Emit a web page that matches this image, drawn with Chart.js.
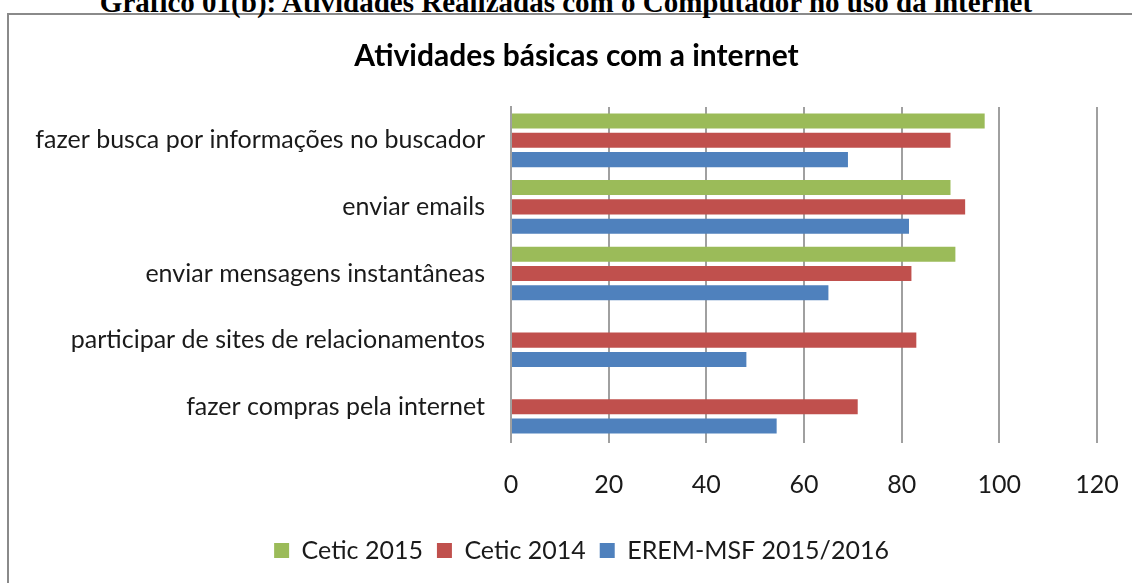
<!DOCTYPE html>
<html>
<head>
<meta charset="utf-8">
<script src="https://cdn.jsdelivr.net/npm/chart.js@4"></script>
<style>
  html, body { margin:0; padding:0; background:#fff; width:1132px; height:583px; overflow:hidden; }
  #frame { position:absolute; left:7px; top:13px; width:1140px; height:600px; border-left:2px solid #8a8a8a; border-top:2px solid #8a8a8a; box-sizing:border-box; }
  #caption { position:absolute; left:0; top:-12px; width:1132px; text-align:center; font:bold 29px "Liberation Serif", "Times New Roman", serif; line-height:29px; color:#000; white-space:nowrap; }
  #wrap { position:absolute; left:0; top:0; width:1132px; height:583px; }
</style>
</head>
<body>
<div id="frame"></div>
<div id="caption">Gráfico 01(b): Atividades Realizadas com o Computador no uso da internet</div>
<div id="wrap"><canvas id="c" width="1132" height="583"></canvas></div>
<script>
const chartTitle = "Atividades básicas com a internet";
const categories = [
  "fazer busca por informações no buscador",
  "enviar emails",
  "enviar mensagens instantâneas",
  "participar de sites de relacionamentos",
  "fazer compras pela internet"
];
const seriesNames = ["Cetic 2015", "Cetic 2014", "EREM-MSF 2015/2016"];
const cetic2015 = [97, 90, 91, null, null];
const cetic2014 = [90, 93, 82, 83, 71];
const erem = [69, 81.5, 65, 48.2, 54.4];
const xTicks = [0, 20, 40, 60, 80, 100, 120];

const colors = ["#9BBB59", "#C0504D", "#4F81BD"];
const labelFont = { family: "Lato, 'Open Sans', sans-serif", size: 25 };

// shift title and legend to the right, as in the reference
const shiftBlocks = {
  id: "shiftBlocks",
  afterLayout(chart) {
    const t = chart.titleBlock;
    if (t) { t.left += 23; t.right += 23; }
    const l = chart.legend;
    if (l) { l.left += 28; l.right += 28; }
  }
};

new Chart(document.getElementById("c"), {
  type: "bar",
  data: {
    labels: categories,
    datasets: [
      { label: seriesNames[0], data: cetic2015, backgroundColor: colors[0] },
      { label: seriesNames[1], data: cetic2014, backgroundColor: colors[1] },
      { label: seriesNames[2], data: erem, backgroundColor: colors[2] }
    ]
  },
  plugins: [shiftBlocks],
  options: {
    indexAxis: "y",
    responsive: false,
    animation: false,
    events: [],
    categoryPercentage: 0.87,
    barPercentage: 0.78,
    layout: { padding: { left: 10, right: 35, top: 0, bottom: 10 } },
    plugins: {
      tooltip: { enabled: false },
      title: {
        display: true,
        text: chartTitle,
        color: "#000",
        font: { family: "Lato, 'Open Sans', sans-serif", size: 30, weight: "bold" },
        padding: { top: 38, bottom: 33 }
      },
      legend: {
        position: "bottom",
        labels: {
          color: "#1a1a1a",
          font: labelFont,
          boxWidth: 15,
          boxHeight: 15,
          padding: 14
        }
      }
    },
    scales: {
      x: {
        min: 0, max: 120,
        afterBuildTicks: (s) => { s.ticks = xTicks.map(v => ({ value: v })); },
        afterFit: (s) => { s.height = 84; s.paddingLeft = 0; s.paddingRight = 0; },
        grid: { color: "#a0a0a0", lineWidth: 2, drawTicks: true, tickLength: 3 },
        border: { display: false },
        ticks: { color: "#1a1a1a", font: labelFont, padding: 27 }
      },
      y: {
        afterFit: (s) => { s.width = 501; },
        grid: { display: false, drawTicks: false },
        border: { display: true, color: "#a0a0a0", width: 2 },
        ticks: { color: "#1a1a1a", font: labelFont, padding: 26 }
      }
    }
  }
});
</script>
</body>
</html>
